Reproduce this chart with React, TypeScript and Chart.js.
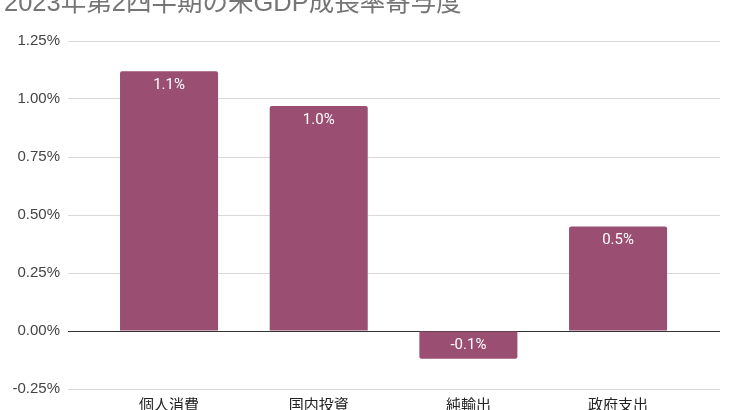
import React, { useEffect, useRef } from "react";
import { Chart, registerables } from "chart.js";

Chart.register(...registerables);

const titleText = "2023年第2四半期の米GDP成長率寄与度";
const categories = ["個人消費", "国内投資", "純輸出", "政府支出"];
const contributions = [1.12, 0.97, -0.12, 0.45];
const yMin = -0.25;
const yMax = 1.25;
const yStep = 0.25;

const FONT = "Roboto, 'Noto Sans CJK JP', sans-serif";
const ARIAL = "'Liberation Sans', Arial, 'Noto Sans CJK JP', sans-serif";
const BAR_COLOR = "#9a4f72";

const titlePlugin = {
  id: "cutTitle",
  afterDraw(chart: any) {
    const ctx = chart.ctx;
    ctx.save();
    ctx.font = `25.5px ${ARIAL}`;
    ctx.fillStyle = "#757575";
    ctx.textAlign = "left";
    ctx.textBaseline = "alphabetic";
    ctx.fillText(titleText, 4, 11);
    ctx.restore();
  },
};

const valueLabelPlugin = {
  id: "valueLabels",
  afterDatasetsDraw(chart: any) {
    const ctx = chart.ctx;
    const meta = chart.getDatasetMeta(0);
    const data = chart.data.datasets[0].data as any[];
    ctx.save();
    ctx.font = `15px ${FONT}`;
    ctx.fillStyle = "#ffffff";
    ctx.textAlign = "center";
    ctx.textBaseline = "middle";
    meta.data.forEach((el: any, i: number) => {
      const v = data[i].y as number;
      const top = Math.min(el.y, el.base);
      ctx.fillText(v.toFixed(1) + "%", el.x, top + 14);
    });
    ctx.restore();
  },
};

export default function App() {
  const ref = useRef<HTMLCanvasElement | null>(null);

  useEffect(() => {
    if (!ref.current) return;
    const chart = new Chart(ref.current, {
      type: "bar",
      data: {
        datasets: [
          {
            data: categories.map((_, i) => ({ x: i, y: contributions[i] })),
            backgroundColor: BAR_COLOR,
            borderRadius: 2,
            barPercentage: 0.655,
            categoryPercentage: 1,
          },
        ],
      },
      options: {
        responsive: false,
        animation: false,
        layout: { padding: { top: 41, right: 10, left: 0, bottom: 0 } },
        plugins: {
          legend: { display: false },
          tooltip: { enabled: false },
          title: { display: false },
        },
        scales: {
          x: {
            type: "linear",
            offset: false,
            min: -0.675,
            max: 3.681,
            grid: { display: false },
            border: { display: false },
            afterBuildTicks: (scale: any) => {
              scale.ticks = categories.map((_, i) => ({ value: i }));
            },
            afterFit: (scale: any) => {
              scale.height = 21;
            },
            ticks: {
              autoSkip: false,
              maxRotation: 0,
              padding: 0,
              color: "#222222",
              font: { family: FONT, size: 15 },
              callback: (v: any) => categories[v as number] ?? "",
            },
          },
          y: {
            min: yMin,
            max: yMax,
            grid: {
              color: (c: any) => (c.tick && c.tick.value === 0 ? "#333333" : "#d9d9d9"),
              lineWidth: 1,
              drawTicks: false,
            },
            border: { display: false },
            afterFit: (scale: any) => {
              scale.width = 68;
            },
            ticks: {
              stepSize: yStep,
              padding: 8,
              color: "#444444",
              font: { family: ARIAL, size: 15 },
              callback: (v: any) => (v as number).toFixed(2) + "%",
            },
          },
        },
      },
      plugins: [titlePlugin, valueLabelPlugin],
    } as any);
    return () => chart.destroy();
  }, []);

  return (
    <div style={{ position: "fixed", left: 0, top: 0, width: 730, height: 410, background: "#fff" }}>
      <canvas ref={ref} width={730} height={410} />
    </div>
  );
}
